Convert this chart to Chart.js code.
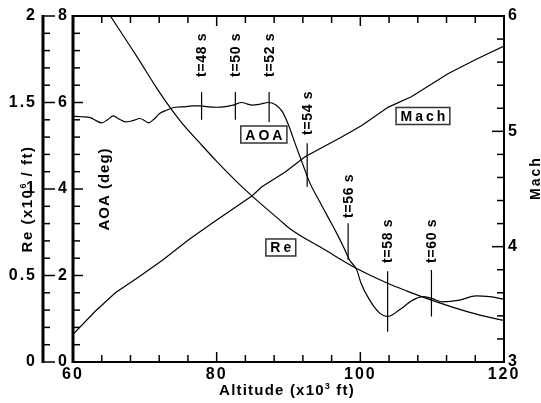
<!DOCTYPE html>
<html><head><meta charset="utf-8">
<script src="https://cdn.jsdelivr.net/npm/chart.js@4.4.1/dist/chart.umd.min.js"></script>
<style>html,body{margin:0;padding:0;background:#fff;overflow:hidden}</style>
</head><body>
<canvas id="c" width="541" height="403"></canvas>
<script>
// ---------- data ----------
const aoaAlt = [60.0,61.2,62.4,63.2,64.0,64.8,65.6,66.4,67.3,68.3,69.3,70.0,70.5,71.3,72.1,73.0,74.2,75.5,76.6,77.7,78.8,80.0,81.0,82.3,83.5,84.2,84.9,86.0,87.2,88.2,89.1,90.0,90.9,92.1,93.0,94.2,95.5,96.7,97.6,98.5,99.5,100.1,101.3,102.7,103.8,105.4,107.3,108.7,109.9,111.5,113.8,116.1,118.0,120.0];
const aoaDeg = [5.68,5.67,5.65,5.58,5.53,5.60,5.69,5.62,5.55,5.58,5.63,5.58,5.53,5.62,5.75,5.82,5.89,5.90,5.92,5.92,5.90,5.89,5.90,5.94,6.00,5.97,5.94,5.96,6.00,5.95,5.80,5.48,5.06,4.52,4.13,3.75,3.35,2.98,2.68,2.36,2.13,1.82,1.43,1.13,1.05,1.20,1.43,1.51,1.47,1.39,1.43,1.53,1.51,1.45];

const reAlt = [65.2,68.9,71.7,73.75,75.2,78.0,80.0,82.6,84.9,88.8,90.2,95.0,99.5,103.8,106.5,109.9,115.0,119.4,120.0];
const reVal = [2.00,1.765,1.58,1.457,1.38,1.25,1.16,1.05,0.96,0.82,0.77,0.65,0.54,0.455,0.41,0.358,0.29,0.245,0.24];

const machAlt = [60.0,63.1,65.9,69.2,72.4,76.1,79.3,82.1,84.9,86.3,89.6,92.3,97.4,100.2,103.9,107.1,112.2,116.0,120.0];
const machVal = [3.24,3.44,3.60,3.74,3.88,4.06,4.20,4.32,4.44,4.52,4.65,4.78,4.95,5.05,5.21,5.30,5.50,5.62,5.74];

// time markers along the trajectory (altitude, kft) and their segment extent in AOA units
const markerLabels = ['t=48 s','t=50 s','t=52 s','t=54 s','t=56 s','t=58 s','t=60 s'];
const markerAlt    = [77.9, 82.6, 87.3, 92.6, 98.3, 103.8, 109.9];
const markerTop    = [6.24, 6.24, 6.24, 5.06, 3.21, 2.10, 2.13];
const markerBottom = [5.60, 5.60, 5.55, 4.05, 2.36, 0.70, 1.05];
const markerTextBase = [6.59, 6.59, 6.59, 5.25, 3.33, 2.29, 2.29];

// axis ticks
const xTickVals = [60, 80, 100, 120];
const reTickVals = [0, 0.5, 1, 1.5, 2];
const aoaTickVals = [0, 2, 4, 6, 8];
const machTickVals = [3, 4, 5, 6];

// series name boxes (data coordinates on their own axes)
const seriesTags = [
  {text:'AOA',  x:86.57,  y:5.26,  axis:'aoa'},
  {text:'Re',   x:88.93,  y:0.662, axis:'re'},
  {text:'Mach', x:108.72, y:5.133, axis:'mach'}
];

// ---------- drawing ----------
const FONT = "'Liberation Sans', Arial, Helvetica, sans-serif";
const toXY = (xs, ys) => xs.map((x, i) => ({x, y: ys[i]}));

function line(ctx, x1, y1, x2, y2) { ctx.beginPath(); ctx.moveTo(x1, y1); ctx.lineTo(x2, y2); ctx.stroke(); }

function drawRich(ctx, parts, cx, cy, angle, size, spacing) {
  ctx.save();
  ctx.translate(cx, cy); ctx.rotate(angle);
  ctx.letterSpacing = spacing + 'px';
  ctx.textBaseline = 'alphabetic'; ctx.textAlign = 'left';
  ctx.fillStyle = '#000';
  const fontOf = p => `bold ${p.sup ? Math.round(size * 0.62) : size}px ${FONT}`;
  let total = 0; const w = [];
  parts.forEach(p => { ctx.font = fontOf(p); const m = ctx.measureText(p.t).width; w.push(m); total += m; });
  let x = -total / 2; const base = size * 0.36;
  parts.forEach((p, i) => { ctx.font = fontOf(p); ctx.fillText(p.t, x, p.sup ? base - size * 0.42 : base); x += w[i]; });
  ctx.restore();
}

const decor = {
  id: 'decor',
  beforeDraw(chart) { chart.ctx.letterSpacing = '2px'; },
  afterDraw(chart) {
    const ctx = chart.ctx;
    const xs = chart.scales.x, ya = chart.scales.aoa, yr = chart.scales.re, ym = chart.scales.mach;
    const {left, right, top, bottom} = chart.chartArea;
    ctx.save();
    ctx.strokeStyle = '#000'; ctx.fillStyle = '#000';
    ctx.lineCap = 'butt';
    // x ticks (bottom and top, pointing inward)
    ctx.lineWidth = 1.5;
    for (let v = 60; v <= 120; v += 4) {
      const px = xs.getPixelForValue(v); const L = (v % 20 === 0) ? 10 : 7;
      line(ctx, px, bottom, px, bottom - L); line(ctx, px, top, px, top + L);
    }
    // Re axis (outer left)
    const reX = yr.right;
    for (let k = 0; k <= 20; k++) {
      const py = yr.getPixelForValue(k * 0.1); const L = (k % 5 === 0) ? 12 : 7;
      line(ctx, reX, py, reX + L, py);
    }
    // AOA axis ticks
    for (let k = 0; k <= 20; k++) {
      const py = ya.getPixelForValue(k * 0.4); const L = (k % 5 === 0) ? 10 : 7;
      line(ctx, left, py, left + L, py);
    }
    // Mach axis ticks
    for (let k = 0; k <= 15; k++) {
      const py = ym.getPixelForValue(3 + k * 0.2); const L = (k % 5 === 0) ? 12 : 7;
      line(ctx, right, py, right - L, py);
    }
    // frame
    ctx.lineWidth = 2;
    ctx.strokeRect(left, top, right - left, bottom - top);
    ctx.lineWidth = 3;
    line(ctx, left, top - 1, left, bottom + 1);
    line(ctx, reX, top - 1, reX, bottom + 1);

    // time labels
    ctx.letterSpacing = '0.7px';
    ctx.font = `bold 14px ${FONT}`;
    ctx.textAlign = 'left'; ctx.textBaseline = 'middle';
    markerLabels.forEach((t, i) => {
      const px = xs.getPixelForValue(markerAlt[i]) + 1;
      const py = ya.getPixelForValue(markerTextBase[i]);
      ctx.save(); ctx.translate(px, py); ctx.rotate(-Math.PI / 2);
      ctx.fillText(t, 0, 0); ctx.restore();
    });

    // series tags in boxes
    ctx.font = `bold 14px ${FONT}`;
    ctx.letterSpacing = '3px';
    seriesTags.forEach(tag => {
      const cx = xs.getPixelForValue(tag.x), cy = chart.scales[tag.axis].getPixelForValue(tag.y);
      const w = ctx.measureText(tag.text).width - 3 + 9;
      const h = 17;
      ctx.fillStyle = '#fff'; ctx.fillRect(cx - w / 2, cy - h / 2, w, h);
      ctx.strokeStyle = '#333'; ctx.lineWidth = 1.5; ctx.strokeRect(cx - w / 2, cy - h / 2, w, h);
      ctx.fillStyle = '#000'; ctx.textAlign = 'left'; ctx.textBaseline = 'alphabetic';
      ctx.fillText(tag.text, cx - w / 2 + 4.5, cy + 5);
    });
    ctx.restore();

    // axis titles
    drawRich(ctx, [{t:'Re (x10'}, {t:'6', sup:true}, {t:' / ft)'}], 27, 199, -Math.PI / 2, 15, 1.5);
    drawRich(ctx, [{t:'AOA (deg)'}], 104, 189, -Math.PI / 2, 15, 1);
    drawRich(ctx, [{t:'Mach'}], 535, 178, -Math.PI / 2, 14, 2);
    drawRich(ctx, [{t:'Altitude (x10'}, {t:'3', sup:true}, {t:' ft)'}], 287, 390, 0, 15, 1.2);
  }
};

const lineDs = (data, axis, smooth) => ({data, yAxisID: axis, showLine: true, borderColor: '#000', borderWidth: 1.2,
  pointRadius: 0, fill: false, tension: 0, cubicInterpolationMode: smooth ? 'monotone' : 'default'});

const datasets = [
  lineDs(toXY(aoaAlt, aoaDeg), 'aoa', true),
  lineDs(toXY(reAlt, reVal), 're', true),
  lineDs(toXY(machAlt, machVal), 'mach', false)
];
markerAlt.forEach((a, i) => {
  datasets.push(lineDs([{x: a, y: markerTop[i]}, {x: a, y: markerBottom[i]}], 'aoa', false));
});

const tickFont = {family: FONT, size: 16, weight: 'bold'};
const fixTicks = vals => (s) => { s.ticks = vals.map(v => ({value: v})); };
const plain = v => String(v);

new Chart(document.getElementById('c').getContext('2d'), {
  type: 'scatter',
  data: {datasets},
  plugins: [decor],
  options: {
    responsive: false, animation: false, devicePixelRatio: 1, events: [],
    layout: {padding: {top: 16, left: 0, right: 0, bottom: 0}},
    plugins: {legend: {display: false}, tooltip: {enabled: false}},
    scales: {
      x: {type: 'linear', position: 'bottom', min: 60, max: 120,
          afterBuildTicks: fixTicks(xTickVals), afterFit: s => { s.height = 41; },
          grid: {display: false, drawTicks: false}, border: {display: false},
          ticks: {font: tickFont, color: '#000', padding: 3, maxRotation: 0, autoSkip: false, callback: plain}},
      re: {type: 'linear', position: 'left', weight: 1, min: 0, max: 2,
          afterBuildTicks: fixTicks(reTickVals), afterFit: s => { s.width = 43; },
          grid: {display: false, drawTicks: false}, border: {display: false},
          ticks: {font: tickFont, color: '#000', padding: 6, autoSkip: false, callback: plain}},
      aoa: {type: 'linear', position: 'left', weight: 0, min: 0, max: 8,
          afterBuildTicks: fixTicks(aoaTickVals), afterFit: s => { s.width = 30; },
          grid: {display: false, drawTicks: false}, border: {display: false},
          ticks: {font: tickFont, color: '#000', padding: 4, autoSkip: false, callback: plain}},
      mach: {type: 'linear', position: 'right', min: 3, max: 6,
          afterBuildTicks: fixTicks(machTickVals), afterFit: s => { s.width = 37; },
          grid: {display: false, drawTicks: false}, border: {display: false},
          ticks: {font: tickFont, color: '#000', padding: 4, autoSkip: false, callback: plain}}
    }
  }
});
</script>
</body></html>
